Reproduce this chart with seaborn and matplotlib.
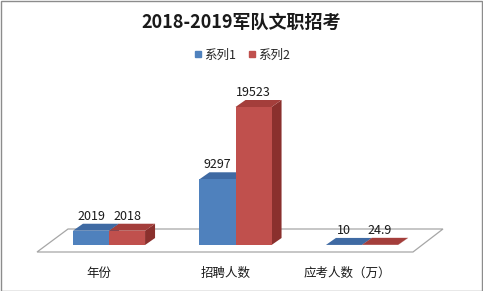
import matplotlib
matplotlib.use("Agg")
import matplotlib.pyplot as plt
import matplotlib.transforms as mtransforms
from matplotlib.patches import Polygon, Rectangle
from matplotlib.lines import Line2D
import seaborn as sns
import pandas as pd
import numpy as np

# ---- data ----
categories = ["年份", "招聘人数", "应考人数（万）"]
series_names = ["系列1", "系列2"]
series1 = [2019, 9297, 10]
series2 = [2018, 19523, 24.9]
label_text1 = ["2019", "9297", "10"]
label_text2 = ["2018", "19523", "24.9"]
title = "2018-2019军队文职招考"

front_colors = ["#4F81BD", "#C0504D"]
top_colors = ["#3F6AA3", "#A43E3B"]
side_colors = ["#34598A", "#8A302D"]

sns.set_theme(style="white")
plt.rcParams["font.family"] = ["Noto Sans CJK SC", "DejaVu Sans"]

df = pd.DataFrame({
    "cat": categories * 2,
    "val": series1 + series2,
    "series": [series_names[0]] * 3 + [series_names[1]] * 3,
})

W, H = 483, 291
fig = plt.figure(figsize=(W / 100, H / 100), dpi=100)
fig.patch.set_facecolor("white")
fig.add_artist(Rectangle((0.5 / W, 0.5 / H), 1 - 1.5 / W, 1 - 1.5 / H,
                         transform=fig.transFigure, fill=False,
                         edgecolor="#8C8C8C", linewidth=1.0))

# axes placement in pixels (top-origin reasoning)
xl, xr = -0.6, 2.6
px_per_x = 126.5
left_px = 109 + xl * px_per_x
width_px = (xr - xl) * px_per_x
base_px = 245  # y of bar bottoms from top
ymax = 22000
height_px = 138 / 19523 * ymax
ax = fig.add_axes([left_px / W, (H - base_px) / H, width_px / W, height_px / H])

sns.barplot(data=df, x="cat", y="val", hue="series", palette=front_colors,
            width=0.57, saturation=1, ax=ax, legend=False, zorder=3,
            linewidth=0, order=categories, hue_order=series_names)
ax.set_xlim(xl, xr)
ax.set_ylim(0, ymax)
for s in ax.spines.values():
    s.set_visible(False)
ax.set_yticks([])
ax.set_xlabel("")
ax.set_ylabel("")
ax.patch.set_alpha(0)


def off(x, y, dx, dy):
    d = ax.transData.transform((x, y))
    return ax.transData.inverted().transform((d[0] + dx, d[1] + dy))


# floor (pixel offsets relative to axis limits / base)
DX, DY = 10, 7
fl = [off(-0.569, 0, 0, -7), off(2.403, 0, 0, -7),
      off(2.403, 0, 30, 16), off(-0.569, 0, 31, 16)]
ax.add_patch(Polygon(fl, closed=True, facecolor="white", edgecolor="#A6A6A6",
                     linewidth=0.9, zorder=0, clip_on=False))

labels_all = [label_text1, label_text2]
for si, cont in enumerate(ax.containers):
    for bi, bar in enumerate(cont):
        x, w, h = bar.get_x(), bar.get_width(), bar.get_height()
        side = [(x + w, 0), (x + w, h), off(x + w, h, DX, DY), off(x + w, 0, DX, DY)]
        top = [(x, h), (x + w, h), off(x + w, h, DX, DY), off(x, h, DX, DY)]
        ax.add_patch(Polygon(side, closed=True, facecolor=side_colors[si],
                             edgecolor="none", zorder=1, clip_on=False))
        ax.add_patch(Polygon(top, closed=True, facecolor=top_colors[si],
                             edgecolor="none", zorder=1, clip_on=False))
        tx, ty = off(x + w / 2, h, 0, DY + 1)
        ax.text(tx, ty, labels_all[si][bi], ha="center", va="bottom",
                fontsize=9, color="#1a1a1a", zorder=5, clip_on=False)

ax.tick_params(axis="x", length=0, pad=16, labelsize=9, labelcolor="#1a1a1a")
shifts = [-10, -10, -15]
for lab, s in zip(ax.get_xticklabels(), shifts):
    lab.set_transform(lab.get_transform() +
                      mtransforms.ScaledTranslation(s / 100, 0, fig.dpi_scale_trans))

fig.text(0.5, 1 - 22 / H, title, ha="center", va="center",
         fontsize=13, fontweight="bold", color="#1a1a1a")

handles = [Line2D([], [], marker="s", linestyle="none", markersize=5,
                  markerfacecolor=c, markeredgecolor=c) for c in front_colors]
fig.legend(handles, series_names, loc="center", bbox_to_anchor=(0.5, 1 - 55 / H),
           ncol=2, frameon=False, fontsize=9, handletextpad=0.1,
           columnspacing=0.8, handlelength=0.8)

fig.savefig("out.png", dpi=100)
